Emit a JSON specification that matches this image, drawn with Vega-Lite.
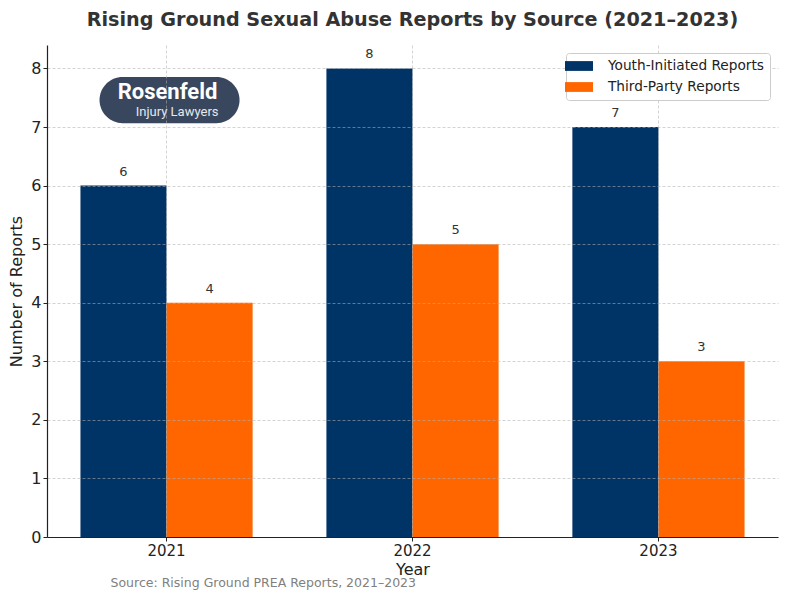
{
  "$schema": "https://vega.github.io/schema/vega-lite/v6.json",
  "autosize": {"type": "none"},
  "width": 731,
  "height": 492,
  "padding": {"left": 47, "top": 45, "right": 22, "bottom": 63},
  "background": "white",
  "config": {
    "font": "DejaVu Sans",
    "view": {"stroke": null},
    "axis": {"labelFont": "DejaVu Sans", "titleFont": "DejaVu Sans"}
  },
  "title": {
    "text": "Rising Ground Sexual Abuse Reports by Source (2021–2023)",
    "font": "DejaVu Sans",
    "fontSize": 19.2,
    "fontWeight": "bold",
    "color": "#333333",
    "offset": 15,
    "anchor": "middle"
  },
  "datasets": {
    "reports": [
      {"Year": "2021", "Source": "Youth-Initiated Reports", "Reports": 6},
      {"Year": "2021", "Source": "Third-Party Reports", "Reports": 4},
      {"Year": "2022", "Source": "Youth-Initiated Reports", "Reports": 8},
      {"Year": "2022", "Source": "Third-Party Reports", "Reports": 5},
      {"Year": "2023", "Source": "Youth-Initiated Reports", "Reports": 7},
      {"Year": "2023", "Source": "Third-Party Reports", "Reports": 3}
    ],
    "logo": [{"Brand": "Rosenfeld", "Tagline": "Injury Lawyers"}],
    "note": [{"Note": "Source: Rising Ground PREA Reports, 2021–2023"}]
  },
  "layer": [
    {
      "data": {"name": "reports"},
      "mark": {"type": "bar"},
      "encoding": {
        "x": {
          "field": "Year",
          "type": "nominal",
          "scale": {"paddingInner": 0.3, "paddingOuter": 0.136},
          "axis": {
            "title": "Year",
            "labelAngle": 0,
            "labelFontSize": 15,
            "labelColor": "#222222",
            "titleFontSize": 16,
            "titleFontWeight": "normal",
            "titleColor": "#222222",
            "titlePadding": 3,
            "labelPadding": 2,
            "tickSize": 4,
            "tickColor": "#222222",
            "domainColor": "#222222",
            "domainWidth": 1.2,
            "grid": true,
            "bandPosition": 0.5,
            "gridColor": "#b0b0b0",
            "gridOpacity": 0.7,
            "gridDash": [3, 2],
            "gridWidth": 0.8,
            "zindex": 1
          }
        },
        "xOffset": {
          "field": "Source",
          "type": "nominal",
          "sort": ["Youth-Initiated Reports", "Third-Party Reports"],
          "scale": {"paddingInner": 0, "paddingOuter": 0}
        },
        "y": {
          "field": "Reports",
          "type": "quantitative",
          "scale": {"domain": [0, 8.4], "nice": false},
          "axis": {
            "title": "Number of Reports",
            "values": [0, 1, 2, 3, 4, 5, 6, 7, 8],
            "format": "d",
            "labelFontSize": 16,
            "labelColor": "#222222",
            "titleFontSize": 16,
            "titleFontWeight": "normal",
            "titleColor": "#222222",
            "titlePadding": 6,
            "labelPadding": 2,
            "tickSize": 4,
            "tickColor": "#222222",
            "domainColor": "#222222",
            "domainWidth": 1.2,
            "grid": true,
            "gridColor": "#b0b0b0",
            "gridOpacity": 0.7,
            "gridDash": [3, 2],
            "gridWidth": 0.8,
            "zindex": 1
          }
        },
        "color": {
          "field": "Source",
          "type": "nominal",
          "scale": {
            "domain": ["Youth-Initiated Reports", "Third-Party Reports"],
            "range": ["#003366", "#ff6600"]
          },
          "legend": {
            "title": null,
            "orient": "top-right",
            "offset": 8,
            "symbolType": "M-2,-0.7H2V0.7H-2Z",
            "symbolSize": 196,
            "symbolStrokeWidth": 0,
            "symbolOpacity": 1,
            "labelFont": "DejaVu Sans",
            "labelFontSize": 13.7,
            "labelColor": "#222222",
            "labelOffset": 22,
            "rowPadding": 7,
            "padding": 6,
            "fillColor": "white",
            "strokeColor": "#cccccc",
            "cornerRadius": 3,
            "zindex": 2
          }
        }
      }
    },
    {
      "data": {"name": "reports"},
      "mark": {"type": "text", "dy": -14, "fontSize": 13, "color": "#333333", "font": "DejaVu Sans"},
      "encoding": {
        "x": {"field": "Year", "type": "nominal"},
        "xOffset": {"field": "Source", "type": "nominal", "sort": ["Youth-Initiated Reports", "Third-Party Reports"]},
        "y": {"field": "Reports", "type": "quantitative"},
        "text": {"field": "Reports", "type": "quantitative"}
      }
    },
    {
      "data": {"name": "logo"},
      "mark": {
        "type": "point",
        "shape": "M-0.67,-0.33H0.67A0.33,0.33 0 0 1 0.67,0.33H-0.67A0.33,0.33 0 0 1 -0.67,-0.33Z",
        "size": 19600,
        "filled": true,
        "color": "#38465e",
        "opacity": 1,
        "strokeWidth": 0,
        "xOffset": 3
      },
      "encoding": {
        "x": {"datum": "2021", "type": "nominal"},
        "y": {"datum": 7.46, "type": "quantitative"}
      }
    },
    {
      "data": {"name": "logo"},
      "mark": {"type": "text", "font": "Roboto", "fontWeight": "bold", "fontSize": 22, "color": "white", "align": "center", "baseline": "alphabetic", "dx": 1},
      "encoding": {
        "x": {"datum": "2021", "type": "nominal"},
        "y": {"datum": 7.47, "type": "quantitative"},
        "text": {"field": "Brand", "type": "nominal"}
      }
    },
    {
      "data": {"name": "logo"},
      "mark": {"type": "text", "font": "Roboto", "fontSize": 13, "color": "#e6e8ec", "align": "right", "baseline": "alphabetic", "dx": 52},
      "encoding": {
        "x": {"datum": "2021", "type": "nominal"},
        "y": {"datum": 7.19, "type": "quantitative"},
        "text": {"field": "Tagline", "type": "nominal"}
      }
    },
    {
      "data": {"name": "note"},
      "mark": {"type": "text", "font": "DejaVu Sans", "fontSize": 12.5, "color": "#808080", "align": "left", "baseline": "middle", "dx": -56},
      "encoding": {
        "x": {"datum": "2021", "type": "nominal"},
        "y": {"datum": -0.79, "type": "quantitative"},
        "text": {"field": "Note", "type": "nominal"}
      }
    }
  ]
}
